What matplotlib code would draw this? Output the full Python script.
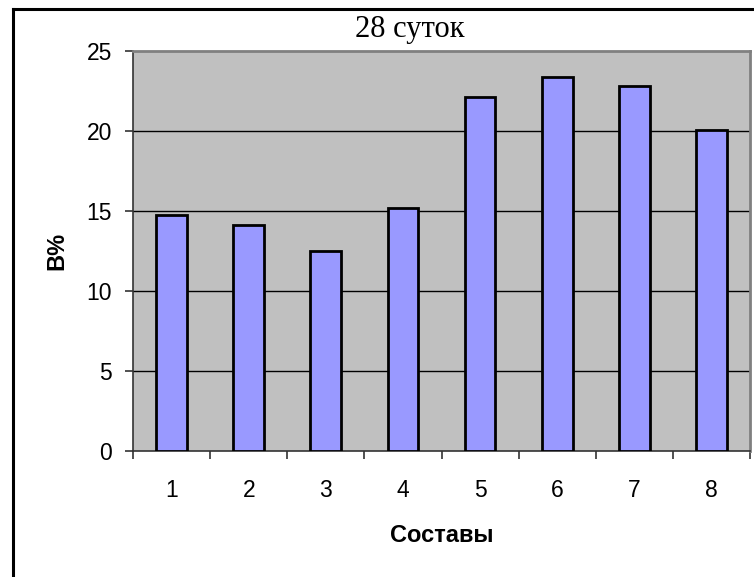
import matplotlib
matplotlib.use("Agg")
import matplotlib.pyplot as plt
from matplotlib.lines import Line2D
import numpy as np

categories = ["1", "2", "3", "4", "5", "6", "7", "8"]
values = [14.75, 14.1, 12.5, 15.2, 22.1, 23.4, 22.8, 20.05]
yticks = [0, 5, 10, 15, 20, 25]
title = "28 суток"
xlabel = "Составы"
ylabel = "В%"

W, H = 754, 577
fig = plt.figure(figsize=(W / 100, H / 100), dpi=100)
fig.patch.set_facecolor("white")

L, R, T, B = 133, 750, 51, 451
ax = fig.add_axes([L / W, 1 - B / H, (R - L) / W, (B - T) / H])
ax.set_facecolor("#C0C0C0")

x = np.arange(len(categories))
ax.bar(x, values, width=0.4, color="#9999FF", edgecolor="black", linewidth=2, zorder=3)

ax.set_xlim(-0.5, len(categories) - 0.5)
ax.set_ylim(0, 25)

ax.set_yticks(yticks)
ax.set_yticklabels([str(t) for t in yticks], fontsize=16.5, family="Liberation Sans")
for t in yticks[1:-1]:
    ax.axhline(t, color="black", linewidth=1, zorder=1)

ax.set_xticks(np.arange(-0.5, len(categories), 1.0))
ax.set_xticklabels([])
ax.set_xticks(x, minor=True)
ax.set_xticklabels(categories, minor=True, fontsize=16.5, family="Liberation Sans")
ax.tick_params(axis="x", which="major", direction="out", length=6, width=1.2, color="#333333")
ax.tick_params(axis="x", which="minor", length=0, pad=20)
ax.tick_params(axis="y", direction="out", length=6, width=1.2, color="#333333", pad=9)

for s in ["left", "bottom"]:
    ax.spines[s].set_color("#333333")
    ax.spines[s].set_linewidth(1.2)
for s in ["top", "right"]:
    ax.spines[s].set_color("#808080")
    ax.spines[s].set_linewidth(2)

fig.text(441.5 / W, 1 - 535 / H, xlabel, ha="center", va="center",
         fontsize=17, fontweight="bold", family="Liberation Sans")
fig.text(57 / W, 1 - 251 / H, ylabel, ha="center", va="center", rotation=90,
         fontsize=17, fontweight="bold", family="Liberation Sans")
fig.text(410 / W, 1 - 29 / H, title, ha="center", va="center",
         fontsize=22, family="Liberation Serif")

# chart-area frame (only left and top edges visible)
fig.add_artist(Line2D([12.5 / W, 12.5 / W], [0, 1 - 8.5 / H], transform=fig.transFigure,
                      color="black", linewidth=2.2))
fig.add_artist(Line2D([12.5 / W, 1.0], [1 - 8.5 / H, 1 - 8.5 / H], transform=fig.transFigure,
                      color="black", linewidth=2.2))

fig.savefig("out.png", dpi=100)
